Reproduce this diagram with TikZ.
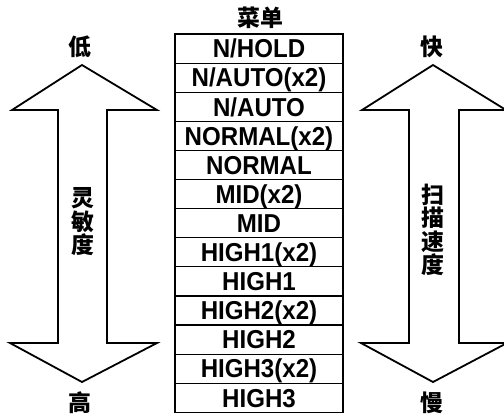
\documentclass[tikz,border=0pt]{standalone}
\usepackage{fontspec}
\setmainfont{Liberation Sans}[FakeStretch=0.93]
\newfontfamily\cjk{Noto Sans CJK SC}
\begin{document}
\begin{tikzpicture}[x=1bp,y=-1bp,
  cell/.style={draw, line width=1.2bp, minimum width=168bp, minimum height=29.1bp,
    inner sep=0pt, text height=18.5bp, text depth=0pt,
    font=\fontsize{26}{28}\selectfont\bfseries},
  zh/.style={font=\fontsize{23}{23.6}\selectfont\cjk\bfseries, inner sep=0pt, align=center},
  bigarrow/.style={draw, line width=1.8bp, line join=miter}]
\useasboundingbox (0,0) rectangle (504,414);
\clip (0,0) rectangle (504,414);
% left arrow
\draw[bigarrow] (82,65) -- (157,110) -- (107,110) -- (107,343) -- (157,343) -- (82,382)
  -- (10,343) -- (58,343) -- (58,110) -- (12,110) -- cycle;
% right arrow
\draw[bigarrow] (433,65) -- (506,110) -- (459,110) -- (459,343) -- (507,343) -- (433,382)
  -- (361,343) -- (409,343) -- (409,110) -- (362,110) -- cycle;
% table
\foreach \t [count=\i] in {N/HOLD,N/AUTO(x2),N/AUTO,NORMAL(x2),NORMAL,MID(x2),MID,HIGH1(x2),HIGH1,HIGH2(x2),HIGH2,HIGH3(x2),HIGH3}{
  \node[cell] (r\i) at (259,{34+29.1*(\i-0.5)}) {\t};
}
\node[zh] (title) at (260,18) {菜单};
\node[zh] (low) at (80,47) {低};
\node[zh] (high) at (80,403) {高};
\node[zh] (fast) at (432,47) {快};
\node[zh] (slow) at (432,403) {慢};
\node[zh] (sens) at (83,222) {灵\\敏\\度};
\node[zh] (scan) at (433,230) {扫\\描\\速\\度};
\end{tikzpicture}
\end{document}
